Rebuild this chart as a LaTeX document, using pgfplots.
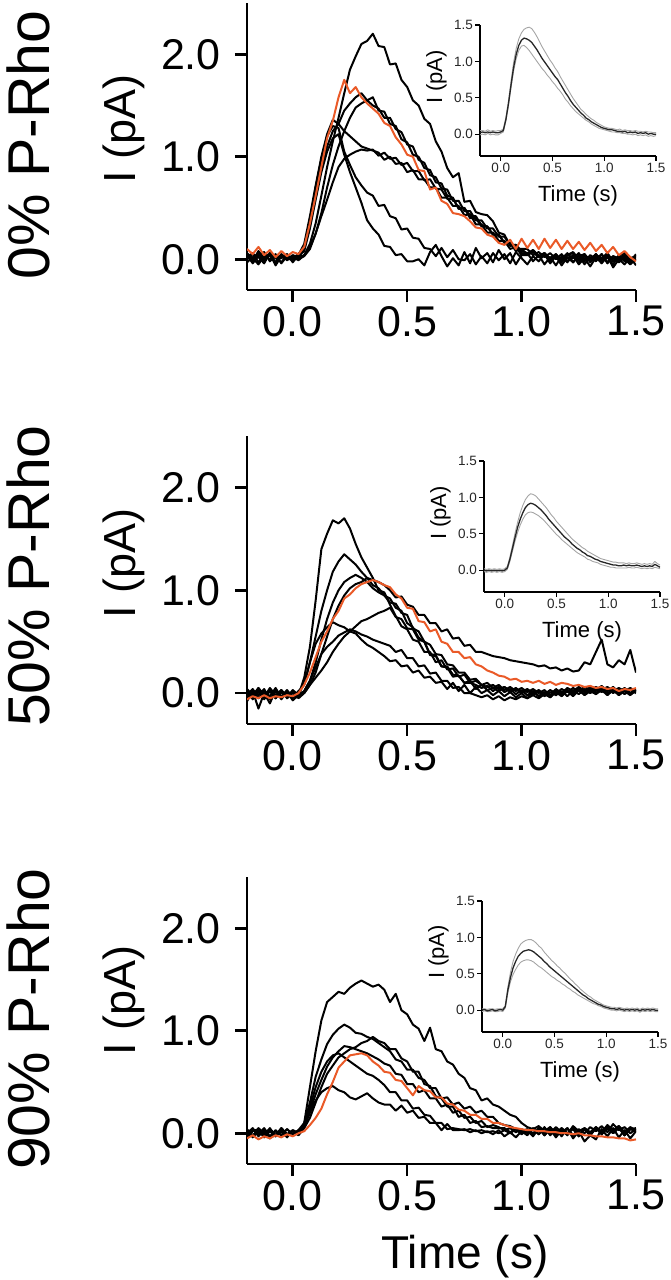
\documentclass[border=0pt]{standalone}
\usepackage{fontspec}
\setmainfont{Liberation Sans}
\usepackage{pgfplots}
\usepackage{pgfplotstable}
\pgfplotsset{compat=1.18}
\definecolor{orng}{RGB}{234,90,40}
\definecolor{semc}{RGB}{165,165,165}

\pgfplotstableread{
t a b c d e f g o
-0.200 0.05 0.02 -0.03 0.04 0.06 0.00 0.03 0.10
-0.175 -0.02 0.06 0.02 -0.04 0.01 0.05 -0.02 0.05
-0.150 0.08 -0.03 0.05 0.03 -0.05 0.02 0.06 0.12
-0.125 0.01 0.04 -0.02 0.07 0.03 -0.04 0.00 0.04
-0.100 0.04 0.00 0.06 -0.02 0.05 0.06 0.04 0.09
-0.075 -0.03 0.05 0.01 0.04 -0.06 0.01 -0.03 0.02
-0.050 0.03 -0.04 0.04 0.01 0.03 -0.03 0.05 0.08
-0.025 0.00 0.03 -0.01 0.05 0.00 0.04 0.01 0.03
0.000 0.02 0.01 0.03 -0.03 0.04 0.00 -0.01 0.07
0.025 -0.01 0.05 0.00 0.04 0.02 0.03 0.02 0.05
0.050 0.04 0.12 0.03 0.15 0.10 0.08 0.04 0.12
0.075 0.15 0.35 0.10 0.42 0.38 0.30 0.12 0.35
0.100 0.35 0.62 0.25 0.72 0.70 0.58 0.25 0.62
0.125 0.62 0.88 0.45 1.00 0.98 0.85 0.42 0.90
0.150 0.90 1.10 0.70 1.22 1.20 1.05 0.58 1.18
0.175 1.15 1.25 0.92 1.36 1.30 1.18 0.75 1.35
0.200 1.38 1.32 1.10 1.32 1.28 1.22 0.90 1.58
0.225 1.62 1.45 1.25 1.25 1.05 1.02 0.98 1.75
0.250 1.85 1.52 1.38 1.20 0.92 0.85 1.02 1.62
0.275 1.98 1.58 1.48 1.15 0.80 0.70 1.05 1.68
0.300 2.10 1.62 1.52 1.10 0.72 0.55 1.07 1.58
0.325 2.13 1.55 1.55 1.08 0.65 0.38 1.06 1.52
0.350 2.20 1.58 1.50 1.06 0.62 0.30 1.07 1.47
0.375 2.08 1.45 1.47 1.04 0.52 0.24 1.01 1.42
0.400 2.07 1.44 1.38 0.97 0.53 0.13 1.04 1.33
0.425 1.90 1.32 1.38 1.00 0.42 0.12 0.98 1.30
0.450 1.91 1.30 1.27 0.93 0.40 0.04 0.99 1.19
0.475 1.75 1.17 1.24 0.94 0.29 0.05 0.92 1.12
0.500 1.68 1.14 1.12 0.85 0.30 -0.02 0.94 1.02
0.525 1.55 1.02 1.10 0.87 0.21 -0.02 0.86 1.00
0.550 1.50 1.00 0.97 0.78 0.20 0.00 0.86 0.87
0.575 1.37 0.89 0.94 0.78 0.11 -0.06 0.77 0.86
0.600 1.32 0.87 0.82 0.70 0.10 0.07 0.78 0.68
0.625 1.15 0.75 0.80 0.70 0.03 0.14 0.69 0.70
0.650 1.05 0.74 0.69 0.60 0.11 0.03 0.68 0.57
0.675 0.89 0.62 0.68 0.60 0.02 -0.07 0.59 0.54
0.700 0.80 0.60 0.57 0.52 0.09 0.01 0.59 0.45
0.725 0.84 0.49 0.57 0.52 0.00 -0.06 0.50 0.44
0.750 0.56 0.50 0.47 0.43 -0.01 0.07 0.50 0.42
0.775 0.57 0.40 0.47 0.44 0.05 -0.04 0.42 0.37
0.800 0.46 0.40 0.38 0.34 -0.05 0.11 0.42 0.31
0.825 0.44 0.32 0.38 0.34 0.03 0.01 0.33 0.30
0.850 0.43 0.32 0.30 0.26 -0.04 0.06 0.32 0.24
0.875 0.37 0.24 0.30 0.26 0.06 -0.03 0.24 0.22
0.900 0.26 0.24 0.22 0.18 -0.01 0.09 0.24 0.16
0.925 0.24 0.16 0.22 0.18 0.05 0.00 0.16 0.14
0.950 0.13 0.16 0.14 0.10 -0.04 0.06 0.16 0.19
0.975 0.14 0.10 0.14 0.12 0.07 -0.05 0.08 0.10
1.000 0.06 0.10 0.08 0.04 0.01 0.04 0.10 0.20
1.025 0.05 0.10 0.06 0.04 -0.05 0.06 0.05 0.11
1.050 0.09 0.04 0.08 0.07 0.03 -0.02 0.09 0.19
1.075 0.03 0.07 0.02 0.02 -0.02 0.04 0.03 0.10
1.100 0.06 0.02 0.05 0.05 0.05 -0.05 0.06 0.20
1.125 0.00 0.06 0.00 -0.02 -0.04 0.02 0.01 0.11
1.150 0.05 0.00 0.04 0.04 0.03 -0.06 0.05 0.19
1.175 -0.02 0.05 -0.03 0.00 -0.06 0.03 -0.02 0.10
1.200 0.04 -0.02 0.05 0.06 0.02 -0.03 0.04 0.18
1.225 0.07 0.04 0.01 -0.03 -0.03 0.04 0.06 0.10
1.250 0.00 -0.04 0.06 0.03 0.04 -0.05 -0.01 0.17
1.275 0.05 0.03 -0.02 0.05 -0.05 0.01 0.04 0.09
1.300 -0.03 -0.01 0.04 -0.02 0.02 -0.07 0.00 0.16
1.325 0.04 0.05 0.00 0.04 -0.02 0.02 0.05 0.08
1.350 0.01 -0.03 0.05 0.00 0.05 -0.04 -0.02 0.14
1.375 0.06 0.02 -0.03 0.05 -0.04 0.03 0.03 0.06
1.400 -0.02 -0.05 0.03 -0.02 0.03 -0.08 0.01 0.12
1.425 0.03 0.04 0.01 0.03 -0.01 0.00 -0.03 0.04
1.450 0.00 -0.02 0.04 0.06 0.04 -0.05 0.02 0.08
1.475 -0.05 0.01 -0.04 -0.01 -0.03 0.02 -0.04 0.02
1.500 0.00 0.03 0.02 0.04 0.05 -0.06 0.00 -0.02
}\pA

\pgfplotstableread{
t a b c d e f g o
-0.200 0.02 -0.05 0.03 -0.02 0.00 0.04 -0.08 -0.06
-0.175 -0.04 0.03 -0.06 0.04 -0.05 -0.02 0.02 -0.03
-0.150 0.05 -0.02 0.01 -0.05 0.03 0.05 -0.15 -0.05
-0.125 -0.02 0.04 -0.04 0.02 -0.06 -0.03 0.00 -0.02
-0.100 0.03 -0.06 0.05 -0.03 0.02 0.02 -0.10 -0.05
-0.075 -0.05 0.02 -0.02 0.05 -0.04 -0.05 0.03 -0.03
-0.050 0.01 -0.03 0.03 -0.04 0.03 0.01 -0.06 -0.04
-0.025 -0.03 0.03 -0.05 0.02 -0.03 -0.04 0.01 -0.02
0.000 0.02 -0.04 0.00 -0.05 0.01 0.03 -0.07 -0.03
0.025 -0.02 0.02 -0.03 0.01 -0.05 -0.02 -0.02 0.00
0.050 0.15 0.08 0.02 0.00 0.00 0.10 0.02 0.08
0.075 0.45 0.30 0.12 0.08 0.08 0.30 0.12 0.20
0.100 0.90 0.55 0.30 0.20 0.15 0.48 0.25 0.35
0.125 1.40 0.80 0.52 0.38 0.22 0.58 0.38 0.50
0.150 1.55 1.00 0.72 0.55 0.30 0.64 0.45 0.60
0.175 1.68 1.18 0.88 0.72 0.40 0.69 0.50 0.72
0.200 1.65 1.28 1.00 0.85 0.48 0.66 0.56 0.80
0.225 1.70 1.35 1.08 0.95 0.55 0.64 0.59 0.92
0.250 1.60 1.30 1.12 1.02 0.60 0.60 0.62 0.96
0.275 1.45 1.25 1.15 1.06 0.65 0.58 0.60 1.02
0.300 1.32 1.18 1.12 1.08 0.70 0.52 0.57 1.06
0.325 1.22 1.12 1.08 1.12 0.72 0.47 0.55 1.08
0.350 1.12 1.05 1.02 1.10 0.75 0.44 0.52 1.10
0.375 1.00 1.02 0.98 1.08 0.78 0.40 0.50 1.08
0.400 0.98 0.95 0.95 1.05 0.80 0.36 0.48 1.05
0.425 0.86 0.92 0.88 1.00 0.83 0.31 0.46 1.03
0.450 0.75 0.83 0.87 0.93 0.74 0.32 0.40 0.96
0.475 0.65 0.80 0.78 0.94 0.72 0.26 0.42 0.92
0.500 0.62 0.68 0.76 0.86 0.63 0.27 0.34 0.83
0.525 0.52 0.64 0.63 0.84 0.62 0.20 0.34 0.82
0.550 0.50 0.54 0.60 0.76 0.52 0.22 0.26 0.70
0.575 0.40 0.50 0.50 0.76 0.50 0.15 0.27 0.69
0.600 0.40 0.38 0.47 0.68 0.37 0.16 0.19 0.60
0.625 0.30 0.37 0.38 0.68 0.36 0.10 0.20 0.62
0.650 0.32 0.26 0.37 0.60 0.26 0.11 0.12 0.50
0.675 0.23 0.26 0.28 0.62 0.25 0.04 0.12 0.48
0.700 0.24 0.18 0.27 0.53 0.16 0.10 0.05 0.40
0.725 0.16 0.17 0.20 0.54 0.17 0.02 0.06 0.40
0.750 0.18 0.10 0.20 0.46 0.10 0.08 0.00 0.34
0.775 0.10 0.12 0.13 0.47 0.10 0.00 0.00 0.35
0.800 0.12 0.04 0.14 0.40 0.08 0.06 -0.02 0.28
0.825 0.08 0.08 0.08 0.40 0.05 0.00 -0.04 0.26
0.850 0.06 0.03 0.10 0.38 0.07 0.03 -0.02 0.22
0.875 0.08 0.05 0.05 0.36 0.02 -0.02 -0.06 0.20
0.900 0.04 0.02 0.08 0.35 0.06 0.02 -0.03 0.17
0.925 0.06 0.06 0.03 0.34 0.01 -0.03 -0.07 0.16
0.950 0.02 0.01 0.06 0.32 0.04 0.01 -0.04 0.13
0.975 0.05 0.04 0.02 0.31 -0.01 -0.04 -0.06 0.14
1.000 0.01 0.00 0.05 0.30 0.03 0.00 -0.03 0.11
1.025 0.04 0.03 0.01 0.29 -0.02 -0.05 -0.05 0.12
1.050 0.00 -0.02 0.04 0.28 0.02 0.02 -0.02 0.10
1.075 0.03 0.02 0.00 0.26 -0.03 -0.03 -0.05 0.12
1.100 -0.01 -0.03 0.03 0.27 0.01 0.01 -0.01 0.09
1.125 0.03 0.01 -0.02 0.24 -0.04 -0.04 -0.04 0.11
1.150 0.00 -0.02 0.04 0.25 0.02 0.03 0.01 0.08
1.175 0.04 0.02 0.00 0.22 -0.02 -0.02 -0.03 0.10
1.200 0.01 -0.03 0.05 0.24 0.03 0.02 0.02 0.09
1.225 0.05 0.03 0.02 0.21 0.00 -0.03 -0.02 0.07
1.250 0.02 -0.01 0.06 0.22 0.05 0.03 0.03 0.08
1.275 0.06 0.04 0.02 0.30 0.01 -0.02 -0.01 0.06
1.300 0.03 0.00 0.06 0.28 0.05 0.02 0.04 0.07
1.325 0.06 0.04 0.03 0.40 0.02 -0.01 0.00 0.05
1.350 0.03 0.01 0.07 0.52 0.06 0.03 0.04 0.06
1.375 0.06 0.05 0.02 0.28 0.02 -0.02 0.00 0.04
1.400 0.02 0.00 0.06 0.25 0.05 0.03 0.03 0.05
1.425 0.05 0.04 0.01 0.32 0.01 -0.01 -0.02 0.02
1.450 0.02 -0.01 0.05 0.28 0.04 0.02 0.02 0.04
1.475 0.05 0.03 0.00 0.42 -0.01 -0.02 -0.01 0.03
1.500 0.02 0.00 0.04 0.20 0.03 0.03 0.02 0.05
}\pB

\pgfplotstableread{
t a b c d e f o
-0.200 0.02 -0.03 0.04 0.00 -0.05 0.03 -0.05
-0.175 -0.03 0.04 -0.02 0.05 0.02 -0.04 -0.02
-0.150 0.05 -0.01 0.03 -0.03 0.04 0.02 -0.06
-0.125 0.00 0.05 -0.04 0.03 -0.02 -0.03 -0.03
-0.100 0.04 -0.03 0.02 -0.05 0.05 0.04 -0.05
-0.075 -0.02 0.03 -0.03 0.02 -0.03 -0.02 -0.02
-0.050 0.03 -0.02 0.05 -0.02 0.02 0.05 -0.04
-0.025 -0.01 0.04 -0.01 0.04 -0.04 -0.01 -0.01
0.000 0.03 -0.01 0.02 -0.01 0.03 0.02 -0.03
0.025 0.00 0.03 -0.02 0.03 0.00 0.00 0.00
0.050 0.10 0.10 0.05 0.08 0.08 0.06 0.02
0.075 0.45 0.30 0.15 0.22 0.25 0.20 0.08
0.100 0.80 0.55 0.30 0.38 0.45 0.32 0.15
0.125 1.10 0.72 0.45 0.52 0.60 0.40 0.24
0.150 1.28 0.87 0.58 0.65 0.70 0.44 0.38
0.175 1.33 0.96 0.66 0.74 0.76 0.46 0.50
0.200 1.38 1.02 0.74 0.80 0.78 0.42 0.64
0.225 1.36 1.06 0.78 0.85 0.74 0.40 0.70
0.250 1.42 1.03 0.82 0.84 0.70 0.35 0.76
0.275 1.46 0.98 0.84 0.82 0.66 0.33 0.77
0.300 1.49 0.97 0.88 0.80 0.62 0.36 0.78
0.325 1.46 0.94 0.90 0.78 0.58 0.39 0.76
0.350 1.43 0.92 0.94 0.75 0.56 0.34 0.70
0.375 1.45 0.88 0.90 0.72 0.52 0.30 0.66
0.400 1.40 0.84 0.88 0.68 0.47 0.28 0.60
0.425 1.28 0.80 0.82 0.66 0.40 0.28 0.59
0.450 1.36 0.72 0.82 0.58 0.40 0.22 0.52
0.475 1.20 0.70 0.73 0.57 0.32 0.27 0.51
0.500 1.16 0.62 0.70 0.48 0.32 0.20 0.44
0.525 1.06 0.62 0.60 0.48 0.24 0.22 0.37
0.550 1.02 0.54 0.60 0.40 0.25 0.15 0.46
0.575 0.90 0.52 0.48 0.42 0.18 0.16 0.42
0.600 1.03 0.44 0.46 0.34 0.17 0.10 0.41
0.625 0.82 0.44 0.36 0.34 0.10 0.10 0.35
0.650 0.80 0.34 0.34 0.26 0.10 0.03 0.35
0.675 0.70 0.35 0.26 0.28 0.04 0.09 0.29
0.700 0.67 0.28 0.26 0.20 0.05 0.03 0.28
0.725 0.58 0.30 0.16 0.22 0.04 0.03 0.23
0.750 0.54 0.24 0.18 0.15 0.03 0.04 0.22
0.775 0.44 0.26 0.10 0.16 0.04 0.01 0.18
0.800 0.42 0.20 0.12 0.10 0.02 0.03 0.18
0.825 0.32 0.22 0.06 0.12 0.03 0.00 0.14
0.850 0.34 0.16 0.07 0.06 0.01 0.02 0.14
0.875 0.28 0.16 0.05 0.08 0.02 -0.01 0.10
0.900 0.26 0.10 0.05 0.06 0.00 0.03 0.10
0.925 0.22 0.08 0.05 0.03 0.03 -0.03 0.08
0.950 0.18 0.07 0.01 0.05 0.00 0.01 0.06
0.975 0.16 0.04 0.04 0.01 0.04 -0.04 0.05
1.000 0.10 0.02 0.00 0.04 -0.01 0.02 0.04
1.025 0.06 0.04 0.03 0.00 0.03 -0.02 0.03
1.050 0.04 0.00 -0.02 0.04 -0.03 0.05 0.03
1.075 0.07 0.05 0.04 -0.01 0.05 -0.01 0.02
1.100 0.02 -0.02 0.00 0.05 -0.02 0.06 0.02
1.125 0.06 0.05 0.06 0.00 0.04 -0.02 0.01
1.150 0.00 -0.03 -0.02 0.06 -0.04 0.04 0.01
1.175 0.05 0.04 0.05 0.01 0.03 -0.03 0.00
1.200 -0.01 -0.01 0.00 0.05 -0.02 0.05 0.00
1.225 0.07 0.06 0.04 -0.02 0.06 -0.05 -0.01
1.250 0.02 -0.02 -0.03 0.04 -0.03 0.02 0.00
1.275 0.05 0.04 0.05 0.00 0.04 -0.08 -0.02
1.300 0.00 -0.02 0.01 0.06 -0.02 -0.02 -0.02
1.325 0.06 0.05 0.06 0.02 0.05 -0.06 -0.03
1.350 0.01 -0.01 -0.01 0.07 0.00 0.04 -0.03
1.375 0.08 0.06 0.05 0.01 0.06 -0.03 -0.04
1.400 0.03 0.00 0.00 0.09 0.02 0.05 -0.04
1.425 0.07 0.05 0.06 0.03 0.07 -0.04 -0.05
1.450 0.01 -0.02 -0.02 0.06 -0.02 0.03 -0.05
1.475 0.06 0.04 0.04 0.00 0.05 -0.05 -0.07
1.500 0.03 0.05 0.02 0.04 0.01 0.02 -0.06
}\pC

\pgfplotstableread{
t m u l
-0.200 0.02 0.05 -0.01
-0.175 0.03 0.05 0.00
-0.150 0.02 0.04 -0.01
-0.125 0.03 0.06 0.01
-0.100 0.02 0.04 -0.01
-0.075 0.03 0.05 0.00
-0.050 0.02 0.04 -0.01
-0.025 0.02 0.05 -0.01
0.000 0.03 0.05 0.01
0.025 0.05 0.07 0.03
0.050 0.20 0.23 0.18
0.075 0.42 0.46 0.39
0.100 0.68 0.73 0.64
0.125 0.92 0.99 0.87
0.150 1.10 1.18 1.04
0.175 1.22 1.31 1.15
0.200 1.29 1.39 1.21
0.225 1.32 1.44 1.22
0.250 1.31 1.46 1.19
0.275 1.29 1.47 1.15
0.300 1.26 1.45 1.10
0.325 1.21 1.40 1.05
0.350 1.16 1.34 1.00
0.375 1.10 1.27 0.95
0.400 1.04 1.20 0.90
0.425 0.99 1.14 0.86
0.450 0.94 1.08 0.81
0.475 0.89 1.02 0.77
0.500 0.84 0.97 0.72
0.525 0.79 0.91 0.68
0.550 0.75 0.86 0.63
0.575 0.69 0.79 0.59
0.600 0.63 0.73 0.54
0.625 0.57 0.67 0.48
0.650 0.52 0.61 0.44
0.675 0.46 0.55 0.39
0.700 0.41 0.49 0.35
0.725 0.37 0.44 0.31
0.750 0.33 0.39 0.28
0.775 0.29 0.34 0.25
0.800 0.26 0.31 0.22
0.825 0.22 0.27 0.19
0.850 0.20 0.24 0.17
0.875 0.17 0.21 0.14
0.900 0.15 0.19 0.12
0.925 0.13 0.16 0.10
0.950 0.11 0.14 0.08
0.975 0.09 0.12 0.07
1.000 0.08 0.10 0.06
1.025 0.07 0.09 0.05
1.050 0.06 0.08 0.04
1.075 0.06 0.08 0.03
1.100 0.05 0.07 0.03
1.125 0.04 0.06 0.02
1.150 0.04 0.07 0.02
1.175 0.03 0.05 0.01
1.200 0.04 0.06 0.01
1.225 0.02 0.05 0.00
1.250 0.03 0.05 0.00
1.275 0.02 0.04 -0.01
1.300 0.03 0.05 0.00
1.325 0.01 0.04 -0.02
1.350 0.02 0.04 -0.01
1.375 0.01 0.03 -0.02
1.400 0.02 0.04 -0.01
1.425 0.00 0.03 -0.03
1.450 0.01 0.03 -0.02
1.475 0.00 0.02 -0.03
1.500 0.00 0.02 -0.02
}\iA

\pgfplotstableread{
t m u l
-0.200 0.00 0.02 -0.02
-0.175 -0.01 0.01 -0.03
-0.150 0.00 0.02 -0.02
-0.125 -0.01 0.01 -0.03
-0.100 0.00 0.02 -0.02
-0.075 -0.01 0.01 -0.03
-0.050 0.00 0.02 -0.02
-0.025 -0.01 0.01 -0.03
0.000 0.00 0.02 -0.02
0.025 0.03 0.05 0.01
0.050 0.15 0.18 0.12
0.075 0.30 0.34 0.26
0.100 0.45 0.51 0.40
0.125 0.59 0.66 0.52
0.150 0.70 0.79 0.62
0.175 0.79 0.89 0.70
0.200 0.86 0.97 0.76
0.225 0.90 1.02 0.79
0.250 0.92 1.05 0.80
0.275 0.91 1.04 0.79
0.300 0.89 1.02 0.77
0.325 0.86 0.98 0.75
0.350 0.83 0.94 0.72
0.375 0.79 0.90 0.69
0.400 0.75 0.86 0.65
0.425 0.70 0.81 0.61
0.450 0.66 0.76 0.57
0.475 0.62 0.72 0.53
0.500 0.58 0.67 0.49
0.525 0.54 0.63 0.46
0.550 0.50 0.59 0.42
0.575 0.46 0.55 0.39
0.600 0.43 0.51 0.36
0.625 0.40 0.47 0.33
0.650 0.36 0.43 0.30
0.675 0.33 0.40 0.27
0.700 0.30 0.37 0.24
0.725 0.28 0.34 0.22
0.750 0.25 0.31 0.20
0.775 0.23 0.29 0.18
0.800 0.20 0.26 0.15
0.825 0.19 0.24 0.14
0.850 0.17 0.22 0.12
0.875 0.15 0.20 0.11
0.900 0.14 0.18 0.10
0.925 0.12 0.16 0.08
0.950 0.11 0.15 0.07
0.975 0.10 0.14 0.06
1.000 0.09 0.13 0.05
1.025 0.08 0.12 0.04
1.050 0.07 0.11 0.04
1.075 0.07 0.11 0.03
1.100 0.06 0.10 0.03
1.125 0.06 0.10 0.03
1.150 0.07 0.10 0.03
1.175 0.06 0.09 0.03
1.200 0.07 0.10 0.04
1.225 0.06 0.09 0.03
1.250 0.06 0.09 0.03
1.275 0.07 0.10 0.04
1.300 0.06 0.09 0.03
1.325 0.05 0.08 0.02
1.350 0.06 0.09 0.03
1.375 0.05 0.08 0.02
1.400 0.06 0.09 0.03
1.425 0.05 0.08 0.02
1.450 0.08 0.12 0.04
1.475 0.06 0.09 0.03
1.500 0.04 0.07 0.02
}\iB

\pgfplotstableread{
t m u l
-0.200 0.00 0.02 -0.02
-0.175 0.01 0.02 -0.01
-0.150 -0.01 0.01 -0.02
-0.125 0.00 0.02 -0.02
-0.100 0.01 0.02 -0.01
-0.075 -0.01 0.01 -0.02
-0.050 0.00 0.02 -0.02
-0.025 0.01 0.02 -0.01
0.000 0.00 0.02 -0.02
0.025 0.05 0.06 0.03
0.050 0.28 0.32 0.24
0.075 0.45 0.52 0.39
0.100 0.58 0.67 0.49
0.125 0.67 0.77 0.56
0.150 0.74 0.85 0.62
0.175 0.78 0.91 0.66
0.200 0.81 0.94 0.68
0.225 0.82 0.96 0.69
0.250 0.83 0.97 0.69
0.275 0.82 0.97 0.68
0.300 0.80 0.95 0.66
0.325 0.77 0.92 0.63
0.350 0.74 0.88 0.60
0.375 0.71 0.85 0.58
0.400 0.67 0.80 0.55
0.425 0.64 0.76 0.52
0.450 0.60 0.72 0.49
0.475 0.57 0.68 0.46
0.500 0.54 0.65 0.44
0.525 0.51 0.61 0.41
0.550 0.48 0.58 0.39
0.575 0.45 0.54 0.36
0.600 0.42 0.51 0.34
0.625 0.39 0.47 0.31
0.650 0.36 0.43 0.29
0.675 0.33 0.40 0.26
0.700 0.30 0.36 0.24
0.725 0.27 0.33 0.21
0.750 0.24 0.29 0.19
0.775 0.21 0.26 0.17
0.800 0.19 0.23 0.15
0.825 0.16 0.20 0.13
0.850 0.14 0.18 0.11
0.875 0.12 0.15 0.09
0.900 0.10 0.13 0.08
0.925 0.08 0.11 0.06
0.950 0.07 0.09 0.05
0.975 0.05 0.07 0.03
1.000 0.04 0.06 0.02
1.025 0.03 0.05 0.01
1.050 0.02 0.04 0.00
1.075 0.02 0.04 0.00
1.100 0.01 0.03 -0.01
1.125 0.02 0.04 0.00
1.150 0.01 0.03 -0.01
1.175 0.00 0.02 -0.02
1.200 0.01 0.03 -0.01
1.225 0.00 0.02 -0.02
1.250 0.01 0.03 -0.01
1.275 0.00 0.02 -0.02
1.300 0.01 0.03 -0.01
1.325 -0.01 0.01 -0.03
1.350 0.01 0.03 -0.01
1.375 0.00 0.02 -0.02
1.400 0.01 0.03 -0.01
1.425 0.00 0.02 -0.02
1.450 0.01 0.03 -0.01
1.475 0.00 0.02 -0.02
1.500 0.00 0.02 -0.02
}\iC

\pgfplotsset{
  mainax/.style={
    scale only axis, width=389pt, height=287pt,
    xmin=-0.2, xmax=1.5, ymin=-0.3, ymax=2.5,
    axis x line*=bottom, axis y line*=left,
    axis line style={line width=2.6pt},
    major tick style={line width=2.6pt, black},
    major tick length=12pt, tick align=outside,
    xtick={0,0.5,1,1.5}, xticklabels={0.0,0.5,1.0,1.5},
    ytick={0,1,2}, yticklabels={0.0,1.0,2.0},
    xticklabel style={font=\fontsize{43}{43}\selectfont, inner sep=4pt},
    yticklabel style={font=\fontsize{43}{43}\selectfont, inner sep=4pt, xshift=-10pt},
    every axis plot/.append style={line width=2pt, line join=round, mark=none},
  },
  insetax/.style={
    scale only axis, width=176pt, height=131pt,
    xmin=-0.2, xmax=1.5, ymin=-0.3, ymax=1.5,
    axis x line*=bottom, axis y line*=left,
    axis line style={line width=1.1pt},
    major tick style={line width=1.1pt, black},
    major tick length=5pt, tick align=outside,
    xtick={0,0.5,1,1.5}, xticklabels={0.0,0.5,1.0,1.5},
    ytick={0,0.5,1,1.5}, yticklabels={0.0,0.5,1.0,1.5},
    xticklabel style={font=\fontsize{13.5}{14}\selectfont, inner sep=2pt, black!85},
    yticklabel style={font=\fontsize{13.5}{14}\selectfont, inner sep=2pt, black!85},
    every axis plot/.append style={line join=round, mark=none},
  },
}

\begin{document}
\begin{tikzpicture}
\path[use as bounding box] (0pt,0pt) rectangle (670pt,1280pt);

% ---------- Panel 1 ----------
\begin{axis}[mainax, at={(247pt,990pt)}, anchor=south west]
\addplot[black] table[x=t,y=a]{\pA};
\addplot[black] table[x=t,y=b]{\pA};
\addplot[black] table[x=t,y=c]{\pA};
\addplot[black] table[x=t,y=d]{\pA};
\addplot[black] table[x=t,y=e]{\pA};
\addplot[black] table[x=t,y=f]{\pA};
\addplot[black] table[x=t,y=g]{\pA};
\addplot[orng] table[x=t,y=o]{\pA};
\end{axis}
\begin{axis}[insetax, at={(480pt,1124pt)}, anchor=south west]
\addplot[semc, line width=0.9pt] table[x=t,y=u]{\iA};
\addplot[semc, line width=0.9pt] table[x=t,y=l]{\iA};
\addplot[black!85, line width=1.3pt] table[x=t,y=m]{\iA};
\end{axis}

% ---------- Panel 2 ----------
\begin{axis}[mainax, height=288pt, at={(247pt,556pt)}, anchor=south west]
\addplot[black] table[x=t,y=a]{\pB};
\addplot[black] table[x=t,y=b]{\pB};
\addplot[black] table[x=t,y=c]{\pB};
\addplot[black] table[x=t,y=d]{\pB};
\addplot[black] table[x=t,y=e]{\pB};
\addplot[black] table[x=t,y=f]{\pB};
\addplot[black] table[x=t,y=g]{\pB};
\addplot[orng] table[x=t,y=o]{\pB};
\end{axis}
\begin{axis}[insetax, at={(484pt,688pt)}, anchor=south west]
\addplot[semc, line width=0.9pt] table[x=t,y=u]{\iB};
\addplot[semc, line width=0.9pt] table[x=t,y=l]{\iB};
\addplot[black!85, line width=1.3pt] table[x=t,y=m]{\iB};
\end{axis}

% ---------- Panel 3 ----------
\begin{axis}[mainax, at={(247pt,116pt)}, anchor=south west]
\addplot[black] table[x=t,y=a]{\pC};
\addplot[black] table[x=t,y=b]{\pC};
\addplot[black] table[x=t,y=c]{\pC};
\addplot[black] table[x=t,y=d]{\pC};
\addplot[black] table[x=t,y=e]{\pC};
\addplot[black] table[x=t,y=f]{\pC};
\addplot[orng] table[x=t,y=o]{\pC};
\end{axis}
\begin{axis}[insetax, at={(482pt,248pt)}, anchor=south west]
\addplot[semc, line width=0.9pt] table[x=t,y=u]{\iC};
\addplot[semc, line width=0.9pt] table[x=t,y=l]{\iC};
\addplot[black!85, line width=1.3pt] table[x=t,y=m]{\iC};
\end{axis}

% ---------- labels ----------
\begin{scope}[every node/.style={inner sep=0pt}]
\node[rotate=90, anchor=base, font=\fontsize{59}{59}\selectfont] at (49pt,1135pt) {0\% P-Rho};
\node[rotate=90, anchor=base, font=\fontsize{59}{59}\selectfont] at (49pt,704pt) {50\% P-Rho};
\node[rotate=90, anchor=base, font=\fontsize{59}{59}\selectfont] at (49pt,261pt) {90\% P-Rho};
\node[rotate=90, anchor=base, font=\fontsize{45}{45}\selectfont] at (135pt,1151pt) {I (pA)};
\node[rotate=90, anchor=base, font=\fontsize{45}{45}\selectfont] at (135pt,717pt) {I (pA)};
\node[rotate=90, anchor=base, font=\fontsize{45}{45}\selectfont] at (135pt,280pt) {I (pA)};
\node[anchor=base, font=\fontsize{46}{46}\selectfont] at (465pt,12pt) {Time (s)};
\node[anchor=base, font=\fontsize{22}{22}\selectfont] at (578pt,1078pt) {Time (s)};
\node[anchor=base, font=\fontsize{22}{22}\selectfont] at (582pt,642pt) {Time (s)};
\node[anchor=base, font=\fontsize{22}{22}\selectfont] at (580pt,202pt) {Time (s)};
\node[rotate=90, anchor=base, font=\fontsize{22}{22}\selectfont] at (442pt,1203pt) {I (pA)};
\node[rotate=90, anchor=base, font=\fontsize{22}{22}\selectfont] at (446pt,767pt) {I (pA)};
\node[rotate=90, anchor=base, font=\fontsize{22}{22}\selectfont] at (444pt,328pt) {I (pA)};
\end{scope}
\end{tikzpicture}
\end{document}
